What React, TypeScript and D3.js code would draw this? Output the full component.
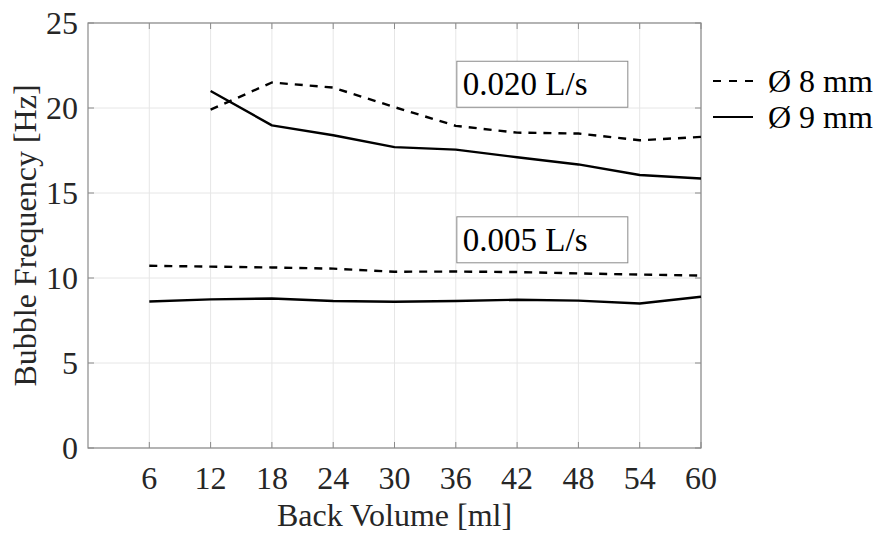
import React, { useEffect, useRef } from "react";
import * as d3 from "d3";

const backVolume = [6, 12, 18, 24, 30, 36, 42, 48, 54, 60];
const xTicks = [6, 12, 18, 24, 30, 36, 42, 48, 54, 60];
const yTicks = [0, 5, 10, 15, 20, 25];

// 0.020 L/s
const high8mm: (number | null)[] = [null, 19.9, 21.5, 21.2, 20.05, 18.95, 18.55, 18.5, 18.1, 18.3];
const high9mm: (number | null)[] = [null, 21.0, 18.98, 18.4, 17.7, 17.55, 17.1, 16.68, 16.06, 15.85];
// 0.005 L/s
const low8mm: (number | null)[] = [10.72, 10.67, 10.62, 10.55, 10.37, 10.38, 10.35, 10.27, 10.2, 10.14];
const low9mm: (number | null)[] = [8.62, 8.74, 8.79, 8.65, 8.6, 8.65, 8.72, 8.67, 8.5, 8.9];

const legendLabels = ["Ø 8 mm", "Ø 9 mm"];
const annotations = [
  { label: "0.020 L/s", x: 36.1, y: 22.75 },
  { label: "0.005 L/s", x: 36.1, y: 13.6 },
];

const W = 881;
const H = 533;
const M = { left: 88, right: 701, top: 23, bottom: 448 };
const FONT = "'Liberation Serif', 'Times New Roman', serif";
const TXT = "#262626";
const AXC = "#8a8a8a";

export default function App() {
  const ref = useRef<SVGSVGElement>(null);

  useEffect(() => {
    const svg = d3.select(ref.current);
    svg.selectAll("*").remove();

    const x = d3.scaleLinear().domain([0, 60]).range([M.left, M.right]);
    const y = d3.scaleLinear().domain([0, 25]).range([M.bottom, M.top]);

    svg.append("rect").attr("width", W).attr("height", H).attr("fill", "#fff");

    // grid
    const g = svg.append("g");
    xTicks.forEach((t) => {
      g.append("line")
        .attr("x1", x(t)).attr("x2", x(t))
        .attr("y1", y(0)).attr("y2", y(25))
        .attr("stroke", "#e6e6e6").attr("stroke-width", 1);
    });
    yTicks.forEach((t) => {
      g.append("line")
        .attr("x1", x(0)).attr("x2", x(60))
        .attr("y1", y(t)).attr("y2", y(t))
        .attr("stroke", "#e6e6e6").attr("stroke-width", 1);
    });

    // frame
    svg.append("rect")
      .attr("x", x(0)).attr("y", y(25))
      .attr("width", x(60) - x(0)).attr("height", y(0) - y(25))
      .attr("fill", "none").attr("stroke", AXC).attr("stroke-width", 1.2);

    // ticks (inward)
    const tl = 6;
    xTicks.forEach((t) => {
      svg.append("line").attr("x1", x(t)).attr("x2", x(t)).attr("y1", y(0)).attr("y2", y(0) - tl).attr("stroke", AXC);
      svg.append("line").attr("x1", x(t)).attr("x2", x(t)).attr("y1", y(25)).attr("y2", y(25) + tl).attr("stroke", AXC);
    });
    yTicks.forEach((t) => {
      svg.append("line").attr("x1", x(0)).attr("x2", x(0) + tl).attr("y1", y(t)).attr("y2", y(t)).attr("stroke", AXC);
      svg.append("line").attr("x1", x(60)).attr("x2", x(60) - tl).attr("y1", y(t)).attr("y2", y(t)).attr("stroke", AXC);
    });

    // tick labels
    xTicks.forEach((t) => {
      svg.append("text")
        .attr("x", x(t)).attr("y", 489)
        .attr("text-anchor", "middle")
        .attr("font-family", FONT).attr("font-size", 32).attr("fill", TXT)
        .text(String(t));
    });
    yTicks.forEach((t) => {
      svg.append("text")
        .attr("x", 78).attr("y", y(t) + 11)
        .attr("text-anchor", "end")
        .attr("font-family", FONT).attr("font-size", 32).attr("fill", TXT)
        .text(String(t));
    });

    // axis titles
    svg.append("text")
      .attr("x", (x(0) + x(60)) / 2).attr("y", 526)
      .attr("text-anchor", "middle")
      .attr("font-family", FONT).attr("font-size", 32).attr("fill", TXT)
      .text("Back Volume [ml]");
    svg.append("text")
      .attr("transform", `translate(36, ${(y(0) + y(25)) / 2}) rotate(-90)`)
      .attr("text-anchor", "middle")
      .attr("font-family", FONT).attr("font-size", 32).attr("fill", TXT)
      .text("Bubble Frequency [Hz]");

    // lines
    const line = d3.line<[number, number | null]>()
      .defined((d) => d[1] !== null)
      .x((d) => x(d[0]))
      .y((d) => y(d[1] as number));

    const series = [
      { v: high8mm, dash: "8,7" },
      { v: high9mm, dash: null },
      { v: low8mm, dash: "8,7" },
      { v: low9mm, dash: null },
    ];
    series.forEach((s) => {
      const data = backVolume.map((bv, i) => [bv, s.v[i]] as [number, number | null]);
      const p = svg.append("path")
        .attr("d", line(data) as string)
        .attr("fill", "none").attr("stroke", "#000")
        .attr("stroke-width", 2.4).attr("stroke-linejoin", "round");
      if (s.dash) p.attr("stroke-dasharray", s.dash);
    });

    // annotation boxes
    annotations.forEach((a) => {
      const bx = x(a.x);
      const by = y(a.y);
      svg.append("rect")
        .attr("x", bx).attr("y", by)
        .attr("width", 171).attr("height", 46)
        .attr("fill", "#fff").attr("stroke", "#8a8a8a").attr("stroke-width", 1);
      svg.append("text")
        .attr("x", bx + 6).attr("y", by + 34)
        .attr("font-family", FONT).attr("font-size", 33).attr("fill", "#000")
        .text(a.label);
    });

    // legend
    const leg = [
      { label: legendLabels[0], dash: "8,8", yy: 81 },
      { label: legendLabels[1], dash: null, yy: 117 },
    ];
    leg.forEach((l) => {
      const ln = svg.append("line")
        .attr("x1", 713).attr("x2", 753)
        .attr("y1", l.yy).attr("y2", l.yy)
        .attr("stroke", "#000").attr("stroke-width", 2.2);
      if (l.dash) ln.attr("stroke-dasharray", l.dash);
      svg.append("text")
        .attr("x", 768).attr("y", l.yy + 11)
        .attr("font-family", FONT).attr("font-size", 32).attr("fill", "#000")
        .text(l.label);
    });
  }, []);

  return (
    <svg
      ref={ref}
      width={W}
      height={H}
      style={{ position: "absolute", left: 0, top: 0, display: "block" }}
    />
  );
}
